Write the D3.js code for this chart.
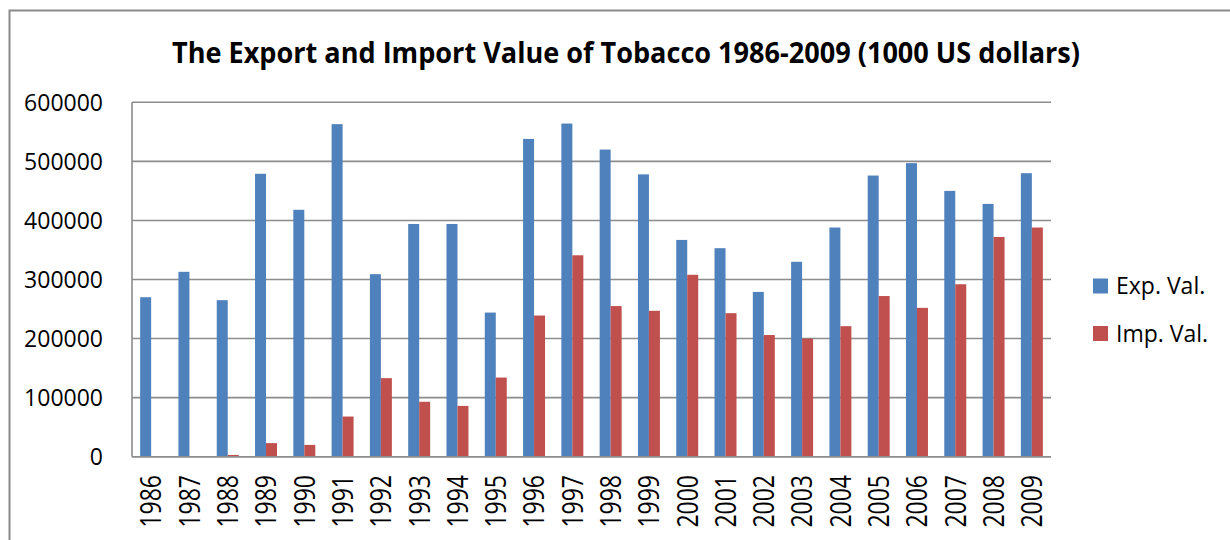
<!DOCTYPE html>
<html>
<head>
<meta charset="utf-8">
<script src="https://cdn.jsdelivr.net/npm/d3@7"></script>
<style>
  html, body { margin: 0; padding: 0; background: #fff; }
  svg { display: block; font-family: "Open Sans", "Noto Sans", sans-serif; }
</style>
</head>
<body>
<svg id="chart" width="1230" height="540"></svg>
<script>
// Tobacco trade, thousands of US dollars
const years = ["1986","1987","1988","1989","1990","1991","1992","1993","1994","1995","1996","1997",
               "1998","1999","2000","2001","2002","2003","2004","2005","2006","2007","2008","2009"];
const exportValues = [270000, 313000, 265000, 479000, 418000, 563000, 309000, 394000, 394000, 244000, 538000, 564000,
                      520000, 478000, 367000, 353000, 279000, 330000, 388000, 476000, 497000, 450000, 428000, 480000];
const importValues = [0, 0, 3000, 23000, 20000, 68000, 133000, 93000, 86000, 134000, 239000, 341000,
                      255000, 247000, 308000, 243000, 206000, 200000, 221000, 272000, 252000, 292000, 372000, 388000];
const seriesNames = ["Exp. Val.", "Imp. Val."];
const yTicks = [0, 100000, 200000, 300000, 400000, 500000, 600000];
const titleText = "The Export and Import Value of Tobacco 1986-2009 (1000 US dollars)";

const colors = ["#4F81BD", "#C0504D"];
const series = [exportValues, importValues];

const svg = d3.select("#chart");

// outer frame of the chart
svg.append("rect")
  .attr("x", 9.5).attr("y", 10.5)
  .attr("width", 1260).attr("height", 560)
  .attr("fill", "#fff")
  .attr("stroke", "#8a8a8a").attr("stroke-width", 2);

const plot = { left: 132, right: 1051, top: 102.3, bottom: 456.7 };

const x0 = d3.scaleBand()
  .domain(years)
  .range([plot.left, plot.right])
  .paddingInner(0.426)
  .paddingOuter(0.213);

const x1 = d3.scaleBand()
  .domain(d3.range(seriesNames.length))
  .range([0, x0.bandwidth()]);

const y = d3.scaleLinear()
  .domain([0, 600000])
  .range([plot.bottom, plot.top]);

// title
svg.append("text")
  .attr("x", 626).attr("y", 63)
  .attr("text-anchor", "middle")
  .attr("font-size", 28)
  .attr("font-weight", "bold")
  .attr("textLength", 908)
  .attr("lengthAdjust", "spacingAndGlyphs")
  .attr("fill", "#000")
  .text(titleText);

// horizontal gridlines
svg.append("g")
  .selectAll("line")
  .data(yTicks)
  .join("line")
  .attr("x1", plot.left).attr("x2", plot.right)
  .attr("y1", d => y(d)).attr("y2", d => y(d))
  .attr("stroke", "#8c8c8c").attr("stroke-width", 1.6);

// value axis (labels only, the axis line is drawn below)
const yAxis = svg.append("g")
  .attr("transform", `translate(${plot.left - 29},0)`)
  .call(d3.axisLeft(y).tickValues(yTicks).tickFormat(d3.format("d")).tickSize(0).tickPadding(0));
yAxis.select(".domain").remove();
yAxis.selectAll("text")
  .attr("font-size", 23)
  .attr("font-family", "'Open Sans', sans-serif")
  .attr("fill", "#000")
  .attr("dy", "0.36em");

// bars
const groups = svg.append("g")
  .selectAll("g")
  .data(years)
  .join("g")
  .attr("transform", d => `translate(${x0(d)},0)`);

groups.selectAll("rect")
  .data((d, i) => series.map((s, k) => ({ k, v: s[i] })))
  .join("rect")
  .attr("x", d => x1(d.k))
  .attr("width", x1.bandwidth())
  .attr("y", d => y(d.v))
  .attr("height", d => y(0) - y(d.v))
  .attr("fill", d => colors[d.k]);

// axis lines
svg.append("line")
  .attr("x1", plot.left).attr("x2", plot.left)
  .attr("y1", plot.top).attr("y2", plot.bottom)
  .attr("stroke", "#8c8c8c").attr("stroke-width", 1.6);
svg.append("line")
  .attr("x1", plot.left).attr("x2", plot.right)
  .attr("y1", y(0)).attr("y2", y(0))
  .attr("stroke", "#8c8c8c").attr("stroke-width", 1.6);

// category labels, rotated to read bottom-up
svg.append("g")
  .selectAll("text")
  .data(years)
  .join("text")
  .attr("transform", d => `translate(${x0(d) + x0.bandwidth() / 2},475) rotate(-90) scale(1,1.25)`)
  .attr("text-anchor", "end")
  .attr("dy", "0.36em")
  .attr("font-size", 23)
  .attr("fill", "#000")
  .text(d => d);

// legend
const legend = svg.append("g")
  .selectAll("g")
  .data(seriesNames)
  .join("g")
  .attr("transform", (d, i) => `translate(1093,${286 + i * 47.5})`);
legend.append("rect")
  .attr("x", 0).attr("y", -7.5)
  .attr("width", 15).attr("height", 15)
  .attr("fill", (d, i) => colors[i]);
legend.append("text")
  .attr("x", 23).attr("y", 0)
  .attr("dy", "0.36em")
  .attr("font-size", 23)
  .attr("fill", "#000")
  .text(d => d);
</script>
</body>
</html>
